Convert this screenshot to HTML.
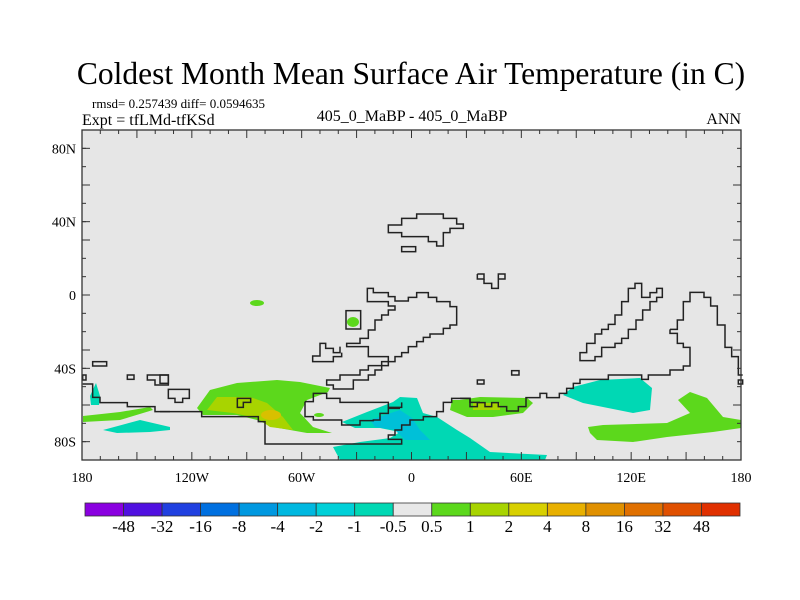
<!DOCTYPE html>
<html><head><meta charset="utf-8"><style>
body{margin:0;background:#fff;}
svg{display:block;font-family:"Liberation Serif",serif;}
</style></head><body>
<svg id="chart" width="800" height="600" viewBox="0 0 800 600">
<text x="411" y="84" text-anchor="middle" font-size="31.5">Coldest Month Mean Surface Air Temperature (in C)</text>
<text x="92" y="108" font-size="13">rmsd= 0.257439 diff= 0.0594635</text>
<text x="82" y="125" font-size="16">Expt = tfLMd-tfKSd</text>
<text x="412" y="121" text-anchor="middle" font-size="16">405_0_MaBP - 405_0_MaBP</text>
<text x="741" y="124" text-anchor="end" font-size="16">ANN</text>
<rect x="82" y="130" width="659" height="330" fill="#e6e6e6"/>
<g id="fills">
<polygon fill="#5cd81c" points="197,408 210,390 237,383 277,380 300,382 330,388 328,392 307,400 300,413 313,427 332,433 307,433 273,427 257,420 237,415 203,415"/>
<polygon fill="#a8d400" points="207,410 217,397 250,397 267,403 283,417 293,430 270,427 257,418 233,413"/>
<ellipse cx="271" cy="415" rx="10" ry="5" fill="#d8c000"/>
<polygon fill="#5cd81c" points="452,400 460,400 480,397 527,398 533,403 523,413 493,417 467,417 450,410"/>
<polygon fill="#a8d400" points="473,403 500,403 500,410 473,410"/>
<polygon fill="#5cd81c" points="588,427 603,425 667,423 690,413 678,400 690,392 707,398 723,417 741,420 741,428 713,432 667,437 633,442 597,440 590,433"/>
<polygon fill="#00d8b4" points="563,395 573,387 600,380 640,378 652,388 650,410 633,413 603,407 583,403"/>
<polygon fill="#00d8b4" points="342,422 367,412 393,402 400,397 417,398 423,413 437,417 457,430 470,438 490,452 547,455 545,460 340,460 333,447 360,442 390,438 400,432 380,428 355,428"/>
<polygon fill="#00c0d8" points="370,420 400,410 412,418 420,430 430,440 405,440 395,430 375,427"/>
<polygon fill="#5cd81c" points="83,416 120,412 150,407 153,410 120,420 83,422"/>
<polygon fill="#00d8b4" points="103,430 140,420 170,427 170,430 150,432 117,433"/>
<polygon fill="#00d8b4" points="90,396 96,383 100,396 99,405 91,405"/>
<ellipse cx="257" cy="303" rx="7" ry="3" fill="#5cd81c"/>
<ellipse cx="353" cy="322" rx="6" ry="5" fill="#5cd81c"/>
<ellipse cx="319" cy="415" rx="5" ry="2" fill="#5cd81c"/>
</g>
<g fill="none" stroke="#222" stroke-width="4.5" transform="translate(160,200) scale(0.33333)">
<polygon points="685,75 725,75 725,55 770,55 770,42 850,42 850,55 890,55 890,72 910,72 910,85 870,85 870,98 850,98 850,138 830,138 830,125 805,125 805,110 725,110 725,98 685,98"/>
<rect x="725" y="140" width="42" height="15"/>
<polygon points="622,265 640,265 640,278 685,278 685,290 705,290 705,303 745,303 745,292 770,292 770,278 805,278 805,292 830,292 830,305 870,305 870,320 890,320 890,375 870,375 870,385 850,385 850,402 810,402 810,412 790,412 790,425 770,425 770,440 745,440 745,458 725,458 725,470 705,470 705,485 685,485 685,497 665,497 665,510 645,510 645,525 625,525 625,540 580,540 580,567 520,567 520,555 500,555 500,540 540,540 540,525 600,525 600,510 625,510 625,497 665,497 665,485 685,485 685,470 625,470 625,440 560,440 560,430 600,430 600,415 625,415 625,390 645,390 645,360 665,360 665,345 685,345 685,330 705,330 705,318 685,318 685,305 622,305"/>
<polyline points="540,440 540,458 520,458 520,445 497,445 497,430 480,430 480,468 458,468 458,485 520,485 520,470 545,470 545,458"/>
<rect x="558" y="332" width="44" height="55"/>
<polyline points="0,635 125,635 125,650 295,650 295,665 315,665 315,732 725,732 725,718 685,718 685,705 705,705 705,690 725,690 725,675 750,675 750,660 790,660 790,650 830,650 830,635 850,635 850,607 875,607 875,595 930,595 930,607 960,607"/>
<polyline points="435,605 460,605 460,580 500,580 500,595 540,595 540,607 685,607 685,622 725,622 725,607"/>
<polyline points="435,605 435,650 460,650 460,660 545,660 545,675 600,675 600,662 640,662 640,660 660,660 660,640 685,640 685,625 720,625"/>
<rect x="0" y="525" width="25" height="25"/>
<polygon points="25,568 88,568 88,595 68,595 68,607 45,607 45,595 25,595"/>
<polygon points="232,595 272,595 272,607 250,607 250,622 232,622"/>
</g>
<g fill="none" stroke="#222" stroke-width="4.5" transform="translate(460,260) scale(0.33333)">
<polyline points="52,42 72,42 72,57 52,57 52,42"/>
<polyline points="72,57 72,70 95,70 95,85 115,85 115,57 135,57 135,42 115,42 115,57"/>
<polygon points="360,302 360,278 380,278 380,250 405,250 405,222 425,222 425,208 445,208 445,193 465,193 465,165 485,165 485,125 505,125 505,85 525,85 525,70 545,70 545,112 570,112 570,98 590,98 590,85 607,85 607,112 590,112 590,125 570,125 570,150 548,150 548,180 528,180 528,208 505,208 505,235 485,235 485,250 465,250 465,262 425,262 425,290 405,290 405,302"/>
<polyline points="630,208 630,220 652,220 652,250 670,250 670,262 690,262 690,318 670,318 670,330 630,330 630,345 565,345 565,358 545,358 545,345 445,345 445,358 360,358 360,370 340,370 340,385 320,385 320,400 298,400 298,413 260,413 260,400 240,400 240,413 198,413 198,440 175,440 175,453 140,453 140,440 115,440 115,428 95,428 95,440 75,440 75,428 52,428 52,440 30,440 30,415 0,415"/>
<polyline points="630,208 652,208 652,180 670,180 670,125 690,125 690,97 732,97 732,112 752,112 752,138 772,138 772,195 795,195 795,262 815,262 815,290 835,290 835,345 848,345"/>
<rect x="155" y="332" width="22" height="13"/>
<rect x="52" y="360" width="20" height="12"/>
<rect x="835" y="360" width="13" height="12"/>
</g>
<g fill="none" stroke="#222" stroke-width="4.5" transform="translate(50,110) scale(0.33333)">
<rect x="128" y="755" width="42" height="13"/>
<rect x="98" y="795" width="10" height="15"/>
<rect x="232" y="795" width="20" height="13"/>
<polygon points="292,795 355,795 355,825 315,825 315,810 292,810"/>
<polyline points="98,822 128,822 128,862 150,862 150,878 232,878 232,890 315,890 315,905 360,905"/>
</g>
<g id="axes"></g>
<g id="colorbar"></g>
</svg>
<script>
const lonTicks=[-180,-120,-60,0,60,120,180];
const lonLabels=["180","120W","60W","0","60E","120E","180"];
const latTicks=[80,40,0,-40,-80];
const latLabels=["80N","40N","0","40S","80S"];
const levelLabels=["-48","-32","-16","-8","-4","-2","-1","-0.5","0.5","1","2","4","8","16","32","48"];
const levelColors=["#8a00e0","#5010e0","#2040e0","#0070e0","#0098e0","#00b8e0","#00d0d8","#00d8b4","#e8e8e8","#5cd81c","#a8d400","#d8d000","#e8b000","#e09000","#e07000","#e05000","#e03000"];
const NS="http://www.w3.org/2000/svg";
const X0=82,X1=741,Y0=130,Y1=460;
function xLon(l){return X0+(l+180)/360*(X1-X0);}
function yLat(l){return Y0+(90-l)/180*(Y1-Y0);}
function mk(t,a,p){const e=document.createElementNS(NS,t);for(const k in a)e.setAttribute(k,a[k]);p.appendChild(e);return e;}
const ax=document.getElementById('axes');
const fr=mk('rect',{x:X0,y:Y0,width:X1-X0,height:Y1-Y0,fill:'none',stroke:'#333','stroke-width':1.3},ax);


for(let l=-180;l<=180;l+=10){const x=xLon(l),len=(l%30===0)?8:4;
 mk('line',{x1:x,y1:Y1,x2:x,y2:Y1-len,stroke:'#333'},ax);
 mk('line',{x1:x,y1:Y0,x2:x,y2:Y0+len,stroke:'#333'},ax);}
for(let l=-90;l<=90;l+=10){const y=yLat(l),len=(l%30===0)?8:4;
 mk('line',{x1:X0,y1:y,x2:X0+len,y2:y,stroke:'#333'},ax);
 mk('line',{x1:X1,y1:y,x2:X1-len,y2:y,stroke:'#333'},ax);}
lonTicks.forEach((l,i)=>{const t=mk('text',{x:xLon(l),y:482,'text-anchor':'middle','font-size':14},ax);t.textContent=lonLabels[i];
 
 });
latTicks.forEach((l,i)=>{const y=yLat(l);mk('line',{x1:X0,y1:y,x2:X0+8,y2:y,stroke:'#333'},ax);
 const t=mk('text',{x:76,y:y+5,'text-anchor':'end','font-size':14},ax);t.textContent=latLabels[i];
 
 });
const cb=document.getElementById('colorbar');
const CB0=85,CB1=740,bw=(CB1-CB0)/levelColors.length;
levelColors.forEach((c,i)=>{const r=mk('rect',{x:CB0+i*bw,y:503,width:bw,height:13,fill:c,stroke:'#333','stroke-width':0.8},cb);
 
 });
levelLabels.forEach((s,i)=>{const t=mk('text',{x:CB0+(i+1)*bw,y:532,'text-anchor':'middle','font-size':17},cb);t.textContent=s;
 
 });
</script>
</body></html>
